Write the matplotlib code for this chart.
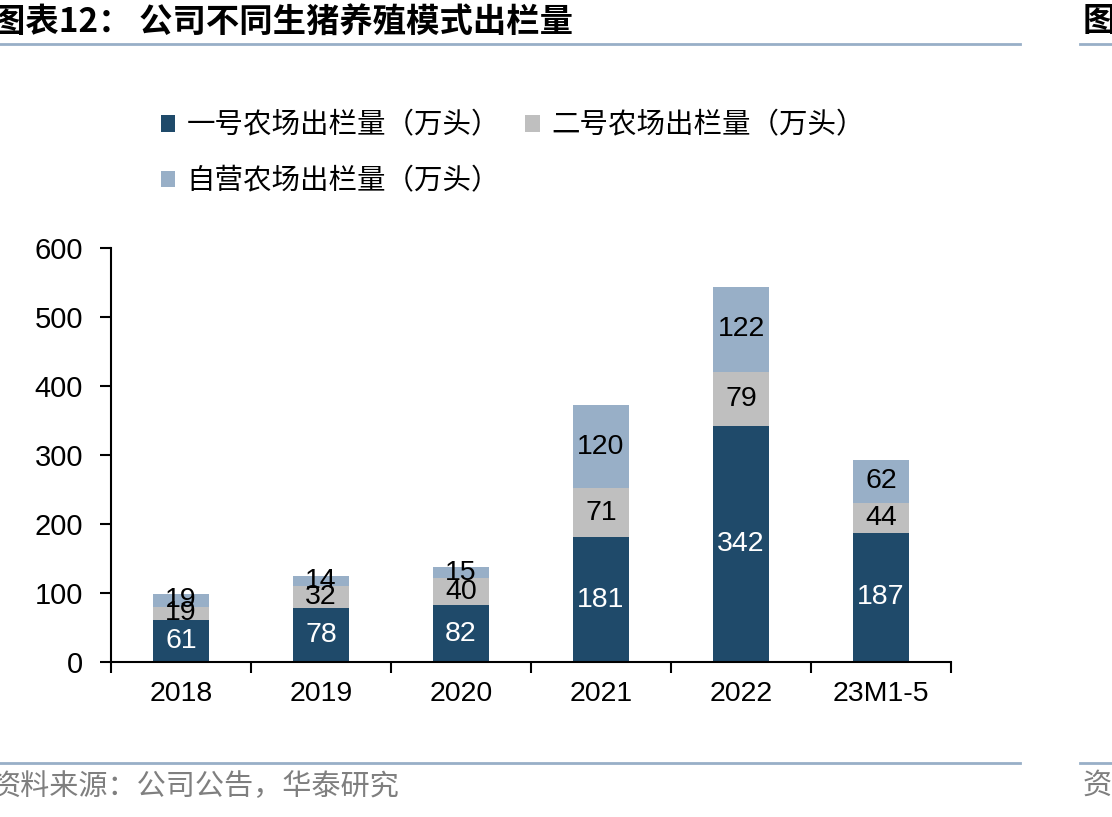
import matplotlib
matplotlib.use("Agg")
import matplotlib.pyplot as plt
from matplotlib.lines import Line2D
import numpy as np

categories = ["2018", "2019", "2020", "2021", "2022", "23M1-5"]
farm1 = [61, 78, 82, 181, 342, 187]
farm2 = [19, 32, 40, 71, 79, 44]
own = [19, 14, 15, 120, 122, 62]
series_names = ["一号农场出栏量（万头）", "二号农场出栏量（万头）", "自营农场出栏量（万头）"]
colors = ["#1F4A6A", "#BFBFBF", "#98AFC7"]
label_colors = ["white", "black", "black"]
yticks = [0, 100, 200, 300, 400, 500, 600]

CJK = ["Noto Sans CJK SC", "DejaVu Sans"]
NUM = ["Liberation Sans", "DejaVu Sans"]

W, H = 1112, 817
fig = plt.figure(figsize=(W / 100, H / 100), dpi=100)
ax = fig.add_axes([111 / W, 1 - 662 / H, 840 / W, 414 / H])

x = np.arange(len(categories))
bottom = np.zeros(len(categories))
bars = []
for vals, c, lc in zip([farm1, farm2, own], colors, label_colors):
    b = ax.bar(x, vals, width=0.4, bottom=bottom, color=c, zorder=2)
    bars.append(b)
    for xi, v, bt in zip(x, vals, bottom):
        ax.text(xi, bt + v / 2, str(v), ha="center", va="center",
                fontsize=20.5, color=lc, family=NUM, zorder=3)
    bottom = bottom + np.array(vals)

ax.set_xlim(-0.5, len(categories) - 0.5)
ax.set_ylim(0, 600)
ax.set_yticks(yticks)
ax.set_yticklabels([str(t) for t in yticks], family=NUM, fontsize=21)
ax.set_xticks(x)
ax.set_xticklabels(categories, family=NUM, fontsize=20.5)
ax.tick_params(axis="x", which="major", length=0, pad=14)
ax.set_xticks(np.arange(-0.5, len(categories)), minor=True)
ax.tick_params(axis="x", which="minor", length=8, width=1.5, direction="out")
ax.tick_params(axis="y", length=8, width=1.5, direction="out", pad=12)
for s in ["top", "right"]:
    ax.spines[s].set_visible(False)
for s in ["left", "bottom"]:
    ax.spines[s].set_linewidth(1.5)

# legend (order for column-wise fill: row1 = farm1, farm2; row2 = own)
handles = [bars[0], bars[2], bars[1]]
labels = [series_names[0], series_names[2], series_names[1]]
leg = fig.legend(handles, labels, loc="upper left",
                 bbox_to_anchor=(135 / W, 1 - 85 / H), ncol=2, frameon=False,
                 prop={"family": CJK, "size": 20.5}, handlelength=0.5,
                 handleheight=0.5, handletextpad=0.4, columnspacing=0.9,
                 labelspacing=0.9)

# header / footer
line_c = "#98AFC7"
fig.add_artist(Line2D([0, 1020 / W], [1 - 44 / H] * 2, color=line_c, lw=2))
fig.add_artist(Line2D([1080 / W, 1], [1 - 44 / H] * 2, color=line_c, lw=2))
fig.add_artist(Line2D([0, 1020 / W], [1 - 763 / H] * 2, color=line_c, lw=2))
fig.add_artist(Line2D([1080 / W, 1], [1 - 763 / H] * 2, color=line_c, lw=2))
fig.text(-8 / W, 1 - 22 / H, "图表12： 公司不同生猪养殖模式出栏量", ha="left", va="center",
         fontsize=24, fontweight="bold", family=CJK, color="black")
fig.text(1083 / W, 1 - 22 / H, "图", ha="left", va="center",
         fontsize=24, fontweight="bold", family=CJK, color="black")
fig.text(-8 / W, 1 - 787 / H, "资料来源：公司公告，华泰研究", ha="left", va="center",
         fontsize=21, family=CJK, color="#7F7F7F")
fig.text(1083 / W, 1 - 787 / H, "资料", ha="left", va="center",
         fontsize=21, family=CJK, color="#7F7F7F")

fig.savefig("out.png", dpi=100)
